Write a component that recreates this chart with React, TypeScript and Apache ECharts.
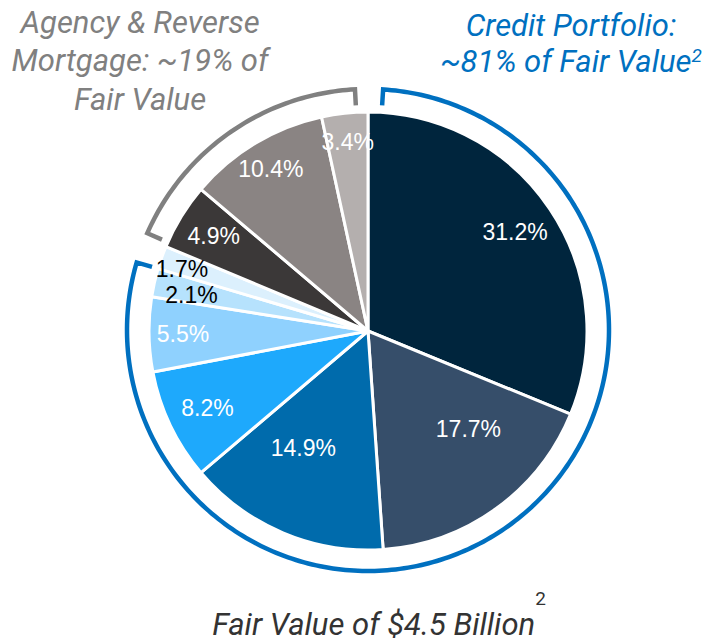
import React, { useEffect, useRef } from "react";
import * as echarts from "echarts";

// ---- data ----
const sliceLabels = ["31.2%", "17.7%", "14.9%", "8.2%", "5.5%", "2.1%", "1.7%", "4.9%", "10.4%", "3.4%"];
const sliceValues = [31.2, 17.7, 14.9, 8.2, 5.5, 2.1, 1.7, 4.9, 10.4, 3.4];
const sliceGroups = ["credit", "credit", "credit", "credit", "credit", "credit", "credit", "agency", "agency", "agency"];
const agencyTitle = ["Agency & Reverse", "Mortgage: ~19% of", "Fair Value"];
const creditTitle = ["Credit Portfolio:", "~81% of Fair Value"];
const bottomTitle = "Fair Value of $4.5 Billion";
const footnoteMark = "2";

// ---- styles ----
const sliceColors = ["#00253d", "#364e6a", "#006bac", "#1ea9fc", "#8fd1fe", "#b6e2fd", "#dcf0fd", "#3b3838", "#8a8483", "#b4afae"];
const labelColors = ["#fff", "#fff", "#fff", "#fff", "#fff", "#000", "#000", "#fff", "#fff", "#fff"];
const labelRadius = [177, 140, 134, 178, 185, 180, 196, 181, 189, 190];
const labelAngleShift = [0, -10, 6, 0, 0, -1.4, -1.3, 0, 0, 0];
const CX = 368, CY = 331, R = 219;
const BR_CY = 330, BR_R = 241, BR_IN = 225;
const groupColors: Record<string, string> = { credit: "#0070c0", agency: "#808080" };
const groupGap: Record<string, [number, number]> = { credit: [3.6, 6.4], agency: [1.0, 3.1] };
const TITLE_FONT = "Roboto, 'Liberation Sans', sans-serif";
const TITLE_SIZE = 31;

function bracketPoints(a0: number, a1: number) {
  const pts: number[][] = [];
  const pt = (r: number, deg: number) => {
    const t = (deg * Math.PI) / 180;
    return [CX + r * Math.sin(t), BR_CY - r * Math.cos(t)];
  };
  pts.push(pt(BR_IN, a0));
  const steps = Math.max(2, Math.ceil(Math.abs(a1 - a0)));
  for (let i = 0; i <= steps; i++) pts.push(pt(BR_R, a0 + ((a1 - a0) * i) / steps));
  pts.push(pt(BR_IN, a1));
  return pts;
}

export default function App() {
  const ref = useRef<HTMLDivElement>(null);
  useEffect(() => {
    if (!ref.current) return;
    const chart = echarts.init(ref.current, null, { renderer: "svg" });
    const total = sliceValues.reduce((a, b) => a + b, 0);
    const labelPos: number[][] = [];
    let cum = 0;
    sliceValues.forEach((v, i) => {
      const deg = ((cum + v / 2) / total) * 360 + labelAngleShift[i];
      const t = (deg * Math.PI) / 180;
      labelPos.push([CX + labelRadius[i] * Math.sin(t), CY - labelRadius[i] * Math.cos(t)]);
      cum += v;
    });
    const groupRanges: Record<string, [number, number]> = {};
    cum = 0;
    sliceValues.forEach((v, i) => {
      const g = sliceGroups[i];
      const a0 = (cum / total) * 360;
      const a1 = ((cum + v) / total) * 360;
      if (!groupRanges[g]) groupRanges[g] = [a0, a1];
      else groupRanges[g][1] = a1;
      cum += v;
    });
    const brackets = Object.keys(groupRanges).map((g) => ({
      type: "polyline",
      shape: { points: bracketPoints(groupRanges[g][0] + groupGap[g][0], groupRanges[g][1] - groupGap[g][1]) },
      style: { stroke: groupColors[g], lineWidth: 4.5, fill: null, lineJoin: "miter" },
      silent: true,
    }));
    const mkText = (text: string, x: number, y: number, color: string, extra: any = {}) => ({
      type: "text",
      x,
      y,
      silent: true,
      style: {
        text,
        align: "center",
        verticalAlign: "middle",
        fontSize: TITLE_SIZE,
        fontStyle: "italic",
        fontFamily: TITLE_FONT,
        fill: color,
        ...extra,
      },
    });
    const option: any = {
      animation: false,
      backgroundColor: "#fff",
      series: [
        {
          type: "pie",
          center: [CX, CY],
          radius: R,
          startAngle: 90,
          clockwise: true,
          avoidLabelOverlap: false,
          itemStyle: { borderColor: "#fff", borderWidth: 3 },
          label: {
            show: true,
            position: "inside",
            fontSize: 23,
            lineHeight: 19,
            fontFamily: "'Liberation Sans', Arial, sans-serif",
          },
          labelLine: { show: false },
          labelLayout: (p: any) => ({
            x: labelPos[p.dataIndex][0],
            y: labelPos[p.dataIndex][1],
            align: "center",
            verticalAlign: "middle",
          }),
          emphasis: { disabled: true },
          data: sliceValues.map((v, i) => ({
            value: v,
            name: sliceLabels[i],
            itemStyle: { color: sliceColors[i] },
            label: { color: labelColors[i], formatter: sliceLabels[i] },
          })),
        },
      ],
      graphic: [
        ...brackets,
        mkText(agencyTitle[0], 140, 22, "#808080"),
        mkText(agencyTitle[1], 140, 60, "#808080"),
        mkText(agencyTitle[2], 140, 99, "#808080"),
        mkText(creditTitle[0], 571, 25, "#0070c0"),
        mkText(`{m|${creditTitle[1]}}{s|${footnoteMark}}`, 571, 61, "#0070c0", {
          rich: {
            m: { fontSize: TITLE_SIZE, fontStyle: "italic", fontFamily: TITLE_FONT, fill: "#0070c0", lineHeight: 30 },
            s: { fontSize: 19, fontStyle: "italic", fontFamily: TITLE_FONT, fill: "#0070c0", lineHeight: 18, verticalAlign: "top" },
          },
        }),
        mkText(`{m|${bottomTitle}}{s|${footnoteMark}}`, 379, 624, "#333333", {
          rich: {
            m: { fontSize: TITLE_SIZE, fontStyle: "italic", fontFamily: TITLE_FONT, fill: "#333333", lineHeight: 70 },
            s: { fontSize: 19, fontFamily: TITLE_FONT, fill: "#333333", lineHeight: 18, verticalAlign: "top" },
          },
        }),
      ],
    };
    chart.setOption(option);
    return () => chart.dispose();
  }, []);
  return (
    <div
      ref={ref}
      style={{ position: "absolute", left: 0, top: 0, width: 711, height: 641 }}
    />
  );
}
